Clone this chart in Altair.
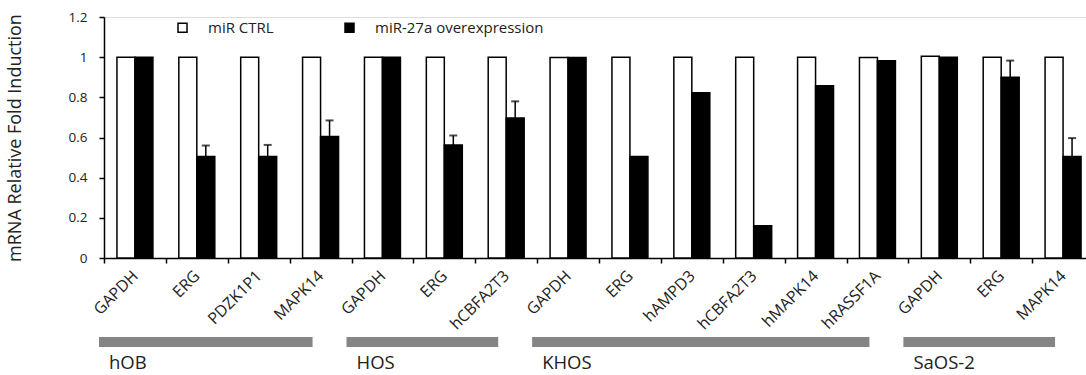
import altair as alt
import pandas as pd

cells = ["hOB", "hOB", "hOB", "hOB", "HOS", "HOS", "HOS",
         "KHOS", "KHOS", "KHOS", "KHOS", "KHOS", "KHOS",
         "SaOS-2", "SaOS-2", "SaOS-2"]
genes = ["GAPDH", "ERG", "PDZK1P1", "MAPK14", "GAPDH", "ERG", "hCBFA2T3",
         "GAPDH", "ERG", "hAMPD3", "hCBFA2T3", "hMAPK14", "hRASSF1A",
         "GAPDH", "ERG", "MAPK14"]
ctrl_vals = [1.0, 1.0, 1.0, 1.0, 1.0, 1.0, 1.0,
             0.998, 1.0, 1.0, 1.0, 1.0, 0.998,
             1.005, 1.0, 1.0]
mir_vals = [1.0, 0.505, 0.505, 0.605, 1.0, 0.563, 0.697,
            0.998, 0.506, 0.823, 0.16, 0.858, 0.982,
            1.0, 0.9, 0.506]
mir_err_upper = [None, 0.56, 0.563, 0.685, None, 0.61, 0.78,
                 None, None, None, None, None, None,
                 None, 0.983, 0.597]
groups = ["hOB", "HOS", "KHOS", "SaOS-2"]
series = ["miR CTRL", "miR-27a overexpression"]

keys = [f"{c}|{g}" for c, g in zip(cells, genes)]

rows = []
for k, cv, mv in zip(keys, ctrl_vals, mir_vals):
    rows.append({"key": k, "series": series[0], "value": cv})
    rows.append({"key": k, "series": series[1], "value": mv})
bars_df = pd.DataFrame(rows)

err_df = pd.DataFrame([
    {"key": k, "series": series[1], "value": mv, "upper": up}
    for k, mv, up in zip(keys, mir_vals, mir_err_upper) if up is not None
])

grp_rows = []
for g in groups:
    idx = [i for i, c in enumerate(cells) if c == g]
    grp_rows.append({"group": g, "first": keys[idx[0]], "last": keys[idx[-1]]})
grp_df = pd.DataFrame(grp_rows)

FONT = "Open Sans"
TXT = "#222222"

x_scale = alt.Scale(domain=keys, range=[0, 990], paddingInner=0, paddingOuter=0)
xo_scale = alt.Scale(domain=series, paddingInner=0, paddingOuter=0.72)
y_scale = alt.Scale(domain=[0, 1.2], nice=False)

x_axis = alt.Axis(
    title=None, labelAngle=-45, labelAlign="right", labelBaseline="middle",
    labelPadding=10, labelFont=FONT, labelFontSize=16, labelColor=TXT,
    labelExpr="split(datum.label, '|')[1]", tickBand="extent", tickSize=5,
    tickColor="black", tickWidth=1.5, domainColor="black", domainWidth=1.5,
    labelOverlap=False, labelLimit=0, grid=False,
)
y_axis = alt.Axis(
    title="mRNA Relative Fold Induction", values=[0, 0.2, 0.4, 0.6, 0.8, 1.0, 1.2],
    format="~g", labelFont=FONT, labelFontSize=13.5, labelColor=TXT, labelPadding=12,
    tickSize=5, tickColor="black", tickWidth=1.5, domainColor="black", domainWidth=1.5,
    grid=False, titleFont=FONT, titleFontSize=18, titleFontWeight="normal",
    titleColor=TXT, titleX=-89, titleY=120.5, titleAngle=270,
    titleAlign="center", titleBaseline="middle",
)

bars = alt.Chart(bars_df).mark_bar(stroke="black", strokeWidth=1.5).encode(
    x=alt.X("key:N", scale=x_scale, axis=x_axis, sort=keys),
    xOffset=alt.XOffset("series:N", scale=xo_scale, sort=series),
    y=alt.Y("value:Q", scale=y_scale, axis=y_axis),
    fill=alt.Fill(
        "series:N",
        scale=alt.Scale(domain=series, range=["white", "black"]),
        legend=alt.Legend(
            orient="none", legendX=71, legendY=3, direction="horizontal",
            title=None, symbolType="square", symbolSize=81,
            symbolStrokeColor="black", symbolStrokeWidth=1.5,
            labelFont=FONT, labelFontSize=15, labelColor=TXT, labelLimit=0,
            labelOffset=18, columnPadding=68, padding=0,
        ),
    ),
)

err_rule = alt.Chart(err_df).mark_rule(color="black", strokeWidth=1.5).encode(
    x=alt.X("key:N", scale=x_scale, sort=keys),
    xOffset=alt.XOffset("series:N", scale=xo_scale, sort=series),
    y=alt.Y("value:Q", scale=y_scale),
    y2="upper:Q",
)
err_cap = alt.Chart(err_df).mark_tick(color="black", thickness=2, size=8, orient="horizontal").encode(
    x=alt.X("key:N", scale=x_scale, sort=keys),
    xOffset=alt.XOffset("series:N", scale=xo_scale, sort=series),
    y=alt.Y("upper:Q", scale=y_scale),
)

grp_bar = alt.Chart(grp_df).mark_rect(color="#858585", xOffset=-5, x2Offset=-8).encode(
    x=alt.X("first:N", scale=x_scale, sort=keys, bandPosition=0),
    x2=alt.X2("last:N", bandPosition=0.5),
    y=alt.value(320),
    y2=alt.value(330),
)
grp_txt = alt.Chart(grp_df).mark_text(
    align="left", baseline="alphabetic", dx=5, font=FONT, fontSize=18.5, color=TXT
).encode(
    x=alt.X("first:N", scale=x_scale, sort=keys, bandPosition=0),
    y=alt.value(352),
    text="group:N",
)

chart = alt.layer(bars, err_rule, err_cap, grp_bar, grp_txt).properties(
    width=982, height=241,
    autosize=alt.AutoSizeParams(type="none"),
    padding={"left": 104, "top": 17, "right": 0, "bottom": 117},
).configure_view(stroke=None).configure(background="white")

chart.save("out.html", embed_options={"renderer": "svg", "actions": False})
